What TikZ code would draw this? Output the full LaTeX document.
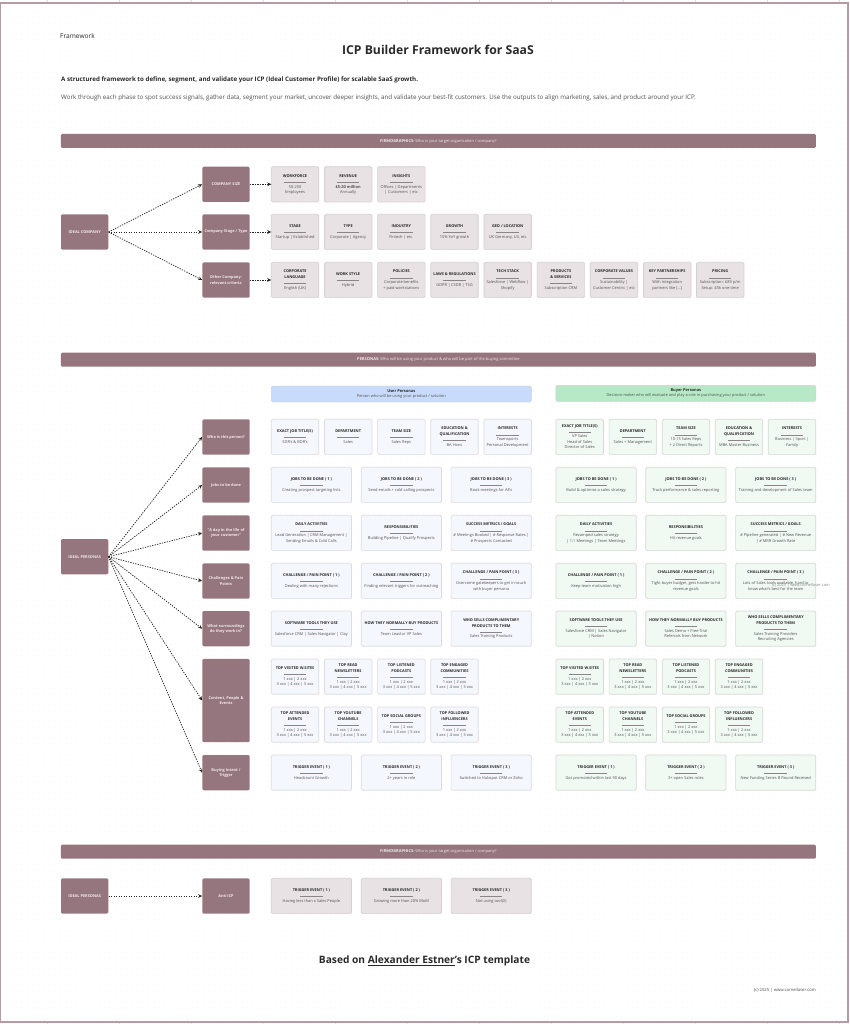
\documentclass[tikz,border=0pt]{standalone}
\usepackage{fontspec}
\usepackage{array}
\setmainfont{Open Sans}
\usetikzlibrary{arrows.meta,patterns.meta}
\definecolor{mauve}{HTML}{95757E}
\definecolor{frameC}{HTML}{B59BA3}
\definecolor{tickC}{HTML}{DDDDDD}
\definecolor{grayF}{HTML}{E8E2E4}
\definecolor{grayB}{HTML}{D5CFD1}
\definecolor{blueF}{HTML}{F5F7FE}
\definecolor{blueB}{HTML}{E0DADF}
\definecolor{greenF}{HTML}{F1F9F3}
\definecolor{greenB}{HTML}{D6D9D6}
\definecolor{userF}{HTML}{C9DBFA}
\definecolor{buyerF}{HTML}{B7E9C6}
\definecolor{ctitle}{HTML}{2A2A2A}
\definecolor{cbody}{HTML}{505050}
\definecolor{crule}{HTML}{8C8488}
\definecolor{labelT}{HTML}{EFE8EA}
\definecolor{dotC}{HTML}{F1F1F1}
\newcounter{cardn}
\tikzset{
  cardbase/.style={draw,rounded corners=1.3pt,line width=0.7pt,inner sep=0pt,
    font=\fontsize{3.95}{5.4}\selectfont},
  graycard/.style={cardbase,fill=grayF,draw=grayB},
  bluecard/.style={cardbase,fill=blueF,draw=blueB},
  greencard/.style={cardbase,fill=greenF,draw=greenB},
  labelbox/.style={fill=mauve,rounded corners=1.3pt,minimum width=47.3pt,minimum height=35.3pt,inner sep=0pt,
    align=center,text=labelT,font=\fontsize{3.9}{5.4}\selectfont\bfseries},
  barbox/.style={fill=mauve,rounded corners=1.3pt,minimum width=755pt,minimum height=14pt,inner sep=0pt,
    align=center,text=labelT,font=\fontsize{4}{5}\selectfont},
  headbox/.style={rounded corners=1.3pt,draw=grayB,line width=0.4pt,minimum width=260pt,minimum height=16pt,inner sep=0pt,
    align=center,text=ctitle,font=\fontsize{3.95}{5.4}\selectfont},
  conn/.style={draw=black!85,line width=0.75pt,dash pattern=on 1.25pt off 1.25pt,-{Stealth[length=4pt,width=3.6pt]}},
  pagetext/.style={inner sep=0pt,text=ctitle},
}
% style, x, y, w, h, title, body
\newcommand{\cardbox}[7]{%
  \stepcounter{cardn}%
  \node[#1,minimum width=#4pt,minimum height=#5pt] (card\arabic{cardn}) at ({#2+#4/2},{#3+#5/2})
    {\vbox{\offinterlineskip
      \hbox{\makebox[#4pt]{\begin{tabular}{@{}>{\fontsize{3.85}{5.4}\selectfont\bfseries\color{ctitle}}c@{}}#6\end{tabular}}}%
      \kern3.1pt
      \hbox{\makebox[#4pt]{\textcolor{crule}{\rule{22.5pt}{0.3pt}}}}%
      \kern1.9pt
      \hbox{\makebox[#4pt]{\begin{tabular}{@{}>{\color{cbody}}c@{}}#7\end{tabular}}}%
    }};}
\newcommand{\cs}[6]{\cardbox{#1}{#2}{#3}{47.5}{#4}{#5}{#6}}
\newcommand{\cw}[6]{\cardbox{#1}{#2}{#3}{80.2}{#4}{#5}{#6}}
\newcommand{\xxx}{1 xxx | 2 xxx\\3 xxx | 4 xxx | 5 xxx}
\begin{document}
\begin{tikzpicture}[x=1pt,y=-1pt]
\useasboundingbox (0,0) rectangle (850,1024);
\fill[white] (0,0) rectangle (850,1024);
\fill[pattern={Dots[distance=5.5pt,radius=0.35pt]},pattern color=dotC] (2,5) rectangle (847,1021);
% viewer ruler ticks
\foreach \tx in {46.7,118.7,190.7,262.7,334.7,406.7,478.7,550.7,622.7,694.7,766.7,838.7}
  \draw[tickC,line width=0.4pt] (\tx,0) -- (\tx,2.2);
\foreach \tx in {46.7,118.7,190.7,262.7,334.7,406.7,478.7,550.7,622.7,694.7,766.7,838.7}
  \draw[tickC,line width=0.4pt] (\tx,1022.8) -- (\tx,1024);
\draw[frameC,line width=1.3pt] (0.6,3) rectangle (848,1022);

% header
\node[pagetext,anchor=west,font=\fontsize{6.6}{8}\selectfont] (tFramework) at (60,36) {Framework};
\node[pagetext,font=\fontsize{12.2}{14}\selectfont\bfseries] (tTitle) at (438,50) {ICP Builder Framework for SaaS};
\node[pagetext,anchor=west,font=\fontsize{6.2}{7}\selectfont\bfseries] (tSub) at (61,79.5) {A structured framework to define, segment, and validate your ICP (Ideal Customer Profile) for scalable SaaS growth.};
\node[pagetext,anchor=west,text=cbody,font=\fontsize{6.23}{7}\selectfont] (tIntro) at (61,97.5) {Work through each phase to spot success signals, gather data, segment your market, uncover deeper insights, and validate your best-fit customers. Use the outputs to align marketing, sales, and product around your ICP.};

% bars
\node[barbox] (barA) at (438.4,141) {\textbf{FIRMOGRAPHICS:} Who is your target organisation / company?};
\node[barbox] (barB) at (438.4,359.7) {\textbf{PERSONAS:} Who will be using your product \& who will be part of the buying committee};
\node[barbox] (barC) at (438.4,851.7) {\textbf{FIRMOGRAPHICS:} Who is your target organisation / company?};

% firmographics labels
\node[labelbox] (ideal) at (84.7,232) {IDEAL COMPANY};
\node[labelbox] (size) at (226,184.3) {COMPANY SIZE};
\node[labelbox] (stage) at (226,232) {Company Stage / Type};
\node[labelbox] (other) at (226,280) {Other Company-\\relevant criteria};
\coordinate (sizeT) at (271.3,184.3);
\coordinate (stageT) at (271.3,232);
\coordinate (otherT) at (271.3,280);

% firmographics cards
\cs{graycard}{271.3}{166.7}{35.3}{WORKFORCE}{50-250\\Employees}
\cs{graycard}{324.4}{166.7}{35.3}{REVENUE}{\textbf{£5-20 million}\\Annually}
\cs{graycard}{377.6}{166.7}{35.3}{INSIGHTS}{Offices | Departments\\| Customers | etc}
\cs{graycard}{271.3}{214.3}{35.3}{STAGE}{Startup | Established}
\cs{graycard}{324.4}{214.3}{35.3}{TYPE}{Corporate | Agency}
\cs{graycard}{377.6}{214.3}{35.3}{INDUSTRY}{Fintech | etc.}
\cs{graycard}{430.8}{214.3}{35.3}{GROWTH}{15\% YoY growth}
\cs{graycard}{483.9}{214.3}{35.3}{GEO / LOCATION}{UK Germany, US, etc}
\cs{graycard}{271.3}{262.3}{35.3}{CORPORATE\\LANGUAGE}{English (UK)}
\cs{graycard}{324.4}{262.3}{35.3}{WORK STYLE}{Hybrid}
\cs{graycard}{377.6}{262.3}{35.3}{POLICIES}{Corporate benefits\\+ paid workstations}
\cs{graycard}{430.8}{262.3}{35.3}{LAWS \& REGULATIONS}{GDPR | CSDR | TSG}
\cs{graycard}{483.9}{262.3}{35.3}{TECH STACK}{Salesforce | Webflow |\\Shopify}
\cs{graycard}{537.1}{262.3}{35.3}{PRODUCTS\\\& SERVICES}{Subscription CRM}
\cs{graycard}{590.2}{262.3}{35.3}{CORPORATE VALUES}{Sustainability |\\Customer Centric | etc}
\cs{graycard}{643.4}{262.3}{35.3}{KEY PARTNERSHIPS}{With Integration\\partners like [...]}
\cs{graycard}{696.4}{262.3}{35.3}{PRICING}{Subscription: £89 p/m\\Setup: £5k one-time}

% firmographics connectors
\draw[conn] (ideal.east) -- (size.west);
\draw[conn] (ideal.east) -- (stage.west);
\draw[conn] (ideal.east) -- (other.west);
\draw[conn] (size.east) -- (sizeT);
\draw[conn] (stage.east) -- (stageT);
\draw[conn] (other.east) -- (otherT);

% persona headers
\node[headbox,fill=userF] (userH) at (401.3,394) {\textbf{User Personas}\\[-0.2pt]{\color{cbody}Person who will be using your product / solution}};
\node[headbox,fill=buyerF] (buyerH) at (685.8,393.4) {\textbf{Buyer Personas}\\[-0.2pt]{\color{cbody}Decision-maker who will evaluate and play a role in purchasing your product / solution}};

% persona labels
\node[labelbox] (ip) at (84.7,556.7) {IDEAL PERSONAS};
\node[labelbox] (who) at (226,437) {Who is this person?};
\node[labelbox] (jobs) at (226,485) {Jobs to be done};
\node[labelbox] (day) at (226,533) {"A day in the life of\\your customer"};
\node[labelbox] (chal) at (226,581) {Challenges \& Pain\\Points};
\node[labelbox] (surr) at (226,628.7) {What surroundings\\do they work in?};
\node[labelbox,minimum height=83.3pt] (cont) at (226,700.5) {Content, People \&\\Events};
\node[labelbox] (buy) at (226,772.7) {Buying Intent /\\Trigger};
\draw[conn] (ip.east) -- (who.west);
\draw[conn] (ip.east) -- (jobs.west);
\draw[conn] (ip.east) -- (day.west);
\draw[conn] (ip.east) -- (chal.west);
\draw[conn] (ip.east) -- (surr.west);
\draw[conn] (ip.east) -- (cont.west);
\draw[conn] (ip.east) -- (buy.west);

% user cards
\cs{bluecard}{271.3}{419.3}{35.3}{EXACT JOB TITLE(S)}{SDR's \& BDR's}
\cs{bluecard}{324.4}{419.3}{35.3}{DEPARTMENT}{Sales}
\cs{bluecard}{377.6}{419.3}{35.3}{TEAM SIZE}{Sales Reps}
\cs{bluecard}{430.8}{419.3}{35.3}{EDUCATION \&\\QUALIFICATION}{BA Hons}
\cs{bluecard}{483.9}{419.3}{35.3}{INTERESTS}{Teamsports\\Personal Development}
\cw{bluecard}{271.3}{467.3}{35.3}{JOBS TO BE DONE ( 1 )}{Creating prospect targeting lists}
\cw{bluecard}{361.3}{467.3}{35.3}{JOBS TO BE DONE ( 2 )}{Send emails + cold calling prospects}
\cw{bluecard}{451.1}{467.3}{35.3}{JOBS TO BE DONE ( 3 )}{Book meetings for AE's}
\cw{bluecard}{271.3}{515.3}{35.3}{DAILY ACTIVITIES}{Lead Generation | CRM Management |\\Sending Emails \& Cold Calls}
\cw{bluecard}{361.3}{515.3}{35.3}{RESPONSIBILITIES}{Building Pipeline | Qualify Prospects}
\cw{bluecard}{451.1}{515.3}{35.3}{SUCCESS METRICS / GOALS}{\# Meetings Booked | \# Response Rates |\\\# Prospects Contacted}
\cw{bluecard}{271.3}{563.3}{35.3}{CHALLENGE / PAIN POINT ( 1 )}{Dealing with many rejections}
\cw{bluecard}{361.3}{563.3}{35.3}{CHALLENGE / PAIN POINT ( 2 )}{Finding relevant triggers for outreaching}
\cw{bluecard}{451.1}{563.3}{35.3}{CHALLENGE / PAIN POINT ( 3 )}{Overcome gatekeepers to get in touch\\with buyer persona}
\cw{bluecard}{271.3}{611}{35.3}{SOFTWARE TOOLS THEY USE}{Salesforce CRM | Sales Navigator | Clay}
\cw{bluecard}{361.3}{611}{35.3}{HOW THEY NORMALLY BUY PRODUCTS}{Team Lead or VP Sales}
\cw{bluecard}{451.1}{611}{35.3}{WHO SELLS COMPLIMENTARY\\PRODUCTS TO THEM}{Sales Training Products}
\cs{bluecard}{271.3}{659}{35.3}{TOP VISITED W.SITES}{\xxx}
\cs{bluecard}{324.4}{659}{35.3}{TOP READ\\NEWSLETTERS}{\xxx}
\cs{bluecard}{377.6}{659}{35.3}{TOP LISTENED\\PODCASTS}{\xxx}
\cs{bluecard}{430.8}{659}{35.3}{TOP ENGAGED\\COMMUNITIES}{\xxx}
\cs{bluecard}{271.3}{707}{35.3}{TOP ATTENDED\\EVENTS}{\xxx}
\cs{bluecard}{324.4}{707}{35.3}{TOP YOUTUBE\\CHANNELS}{\xxx}
\cs{bluecard}{377.6}{707}{35.3}{TOP SOCIAL GROUPS}{\xxx}
\cs{bluecard}{430.8}{707}{35.3}{TOP FOLLOWED\\INFLUENCERS}{\xxx}
\cw{bluecard}{271.3}{755}{35.3}{TRIGGER EVENT ( 1 )}{Headcount Growth}
\cw{bluecard}{361.3}{755}{35.3}{TRIGGER EVENT ( 2 )}{2+ years in role}
\cw{bluecard}{451.1}{755}{35.3}{TRIGGER EVENT ( 3 )}{Switched to Hubspot CRM or Zoho}

% buyer cards
\cs{greencard}{556}{419.3}{35.3}{EXACT JOB TITLE(S)}{VP Sales\\Head of Sales\\Director of Sales}
\cs{greencard}{609.1}{419.3}{35.3}{DEPARTMENT}{Sales + Management}
\cs{greencard}{662.2}{419.3}{35.3}{TEAM SIZE}{10-15 Sales Reps\\+ 2 Direct Reports}
\cs{greencard}{715.3}{419.3}{35.3}{EDUCATION \&\\QUALIFICATION}{MBA Master Business}
\cs{greencard}{768.3}{419.3}{35.3}{INTERESTS}{Business | Sport |\\Family}
\cw{greencard}{556}{467.3}{35.3}{JOBS TO BE DONE ( 1 )}{Build \& optimise a sales strategy}
\cw{greencard}{645.8}{467.3}{35.3}{JOBS TO BE DONE ( 2 )}{Track performance \& sales reporting}
\cw{greencard}{735.6}{467.3}{35.3}{JOBS TO BE DONE ( 3 )}{Training and development of Sales team}
\cw{greencard}{556}{515.3}{35.3}{DAILY ACTIVITIES}{Revamped sales strategy\\| 1:1 Meetings | Team Meetings}
\cw{greencard}{645.8}{515.3}{35.3}{RESPONSIBILITIES}{Hit revenue goals}
\cw{greencard}{735.6}{515.3}{35.3}{SUCCESS METRICS / GOALS}{\# Pipeline generated | \# New Revenue\\| \# MRR Growth Rate}
\cw{greencard}{556}{563.3}{35.3}{CHALLENGE / PAIN POINT ( 1 )}{Keep team motivation high}
\cw{greencard}{645.8}{563.3}{35.3}{CHALLENGE / PAIN POINT ( 2 )}{Tight buyer budget, gets harder to hit\\revenue goals}
\cw{greencard}{735.6}{563.3}{35.3}{CHALLENGE / PAIN POINT ( 3 )}{Lots of Sales tools available, hard to\\know what's best for the team}
\cw{greencard}{556}{611}{35.3}{SOFTWARE TOOLS THEY USE}{Salesforce CRM | Sales Navigator\\| Notion}
\cw{greencard}{645.8}{611}{35.3}{HOW THEY NORMALLY BUY PRODUCTS}{Sales Demo + Free Trial\\Referrals from Network}
\cw{greencard}{735.6}{611}{35.3}{WHO SELLS COMPLIMENTARY\\PRODUCTS TO THEM}{Sales Training Providers\\Recruiting Agencies}
\cs{greencard}{556}{659}{35.3}{TOP VISITED W.SITES}{\xxx}
\cs{greencard}{609.1}{659}{35.3}{TOP READ\\NEWSLETTERS}{\xxx}
\cs{greencard}{662.2}{659}{35.3}{TOP LISTENED\\PODCASTS}{\xxx}
\cs{greencard}{715.3}{659}{35.3}{TOP ENGAGED\\COMMUNITIES}{\xxx}
\cs{greencard}{556}{707}{35.3}{TOP ATTENDED\\EVENTS}{\xxx}
\cs{greencard}{609.1}{707}{35.3}{TOP YOUTUBE\\CHANNELS}{\xxx}
\cs{greencard}{662.2}{707}{35.3}{TOP SOCIAL GROUPS}{\xxx}
\cs{greencard}{715.3}{707}{35.3}{TOP FOLLOWED\\INFLUENCERS}{\xxx}
\cw{greencard}{556}{755}{35.3}{TRIGGER EVENT ( 1 )}{Got promoted within last 90 days}
\cw{greencard}{645.8}{755}{35.3}{TRIGGER EVENT ( 2 )}{3+ open Sales roles}
\cw{greencard}{735.6}{755}{35.3}{TRIGGER EVENT ( 3 )}{New Funding Series B Round Received}

% watermark over the card
\node[inner sep=0pt,anchor=east,text=black!45,font=\fontsize{3.95}{5}\selectfont] (wm) at (830,585.7) {(c) 2025 | www.cornellaser.com};

% anti ICP row
\node[labelbox] (ip2) at (84.7,896) {IDEAL PERSONAS};
\node[labelbox] (anti) at (226,896) {Anti ICP};
\draw[conn] (ip2.east) -- (anti.west);
\cw{graycard}{271.3}{878.3}{35.3}{TRIGGER EVENT ( 1 )}{Having less than x Sales People}
\cw{graycard}{361.3}{878.3}{35.3}{TRIGGER EVENT ( 2 )}{Growing more than 20\% MoM}
\cw{graycard}{451.1}{878.3}{35.3}{TRIGGER EVENT ( 3 )}{Not using tool(X)}

% footer
\node[pagetext,font=\fontsize{10.2}{12}\selectfont\bfseries] (tBased) at (424.5,961) {Based on \underline{Alexander Estner}'s ICP template};
\node[pagetext,anchor=east,text=cbody,font=\fontsize{4.2}{5}\selectfont] (tCopy) at (816,990) {(c) 2025 | www.cornellaser.com};
\end{tikzpicture}
\end{document}
